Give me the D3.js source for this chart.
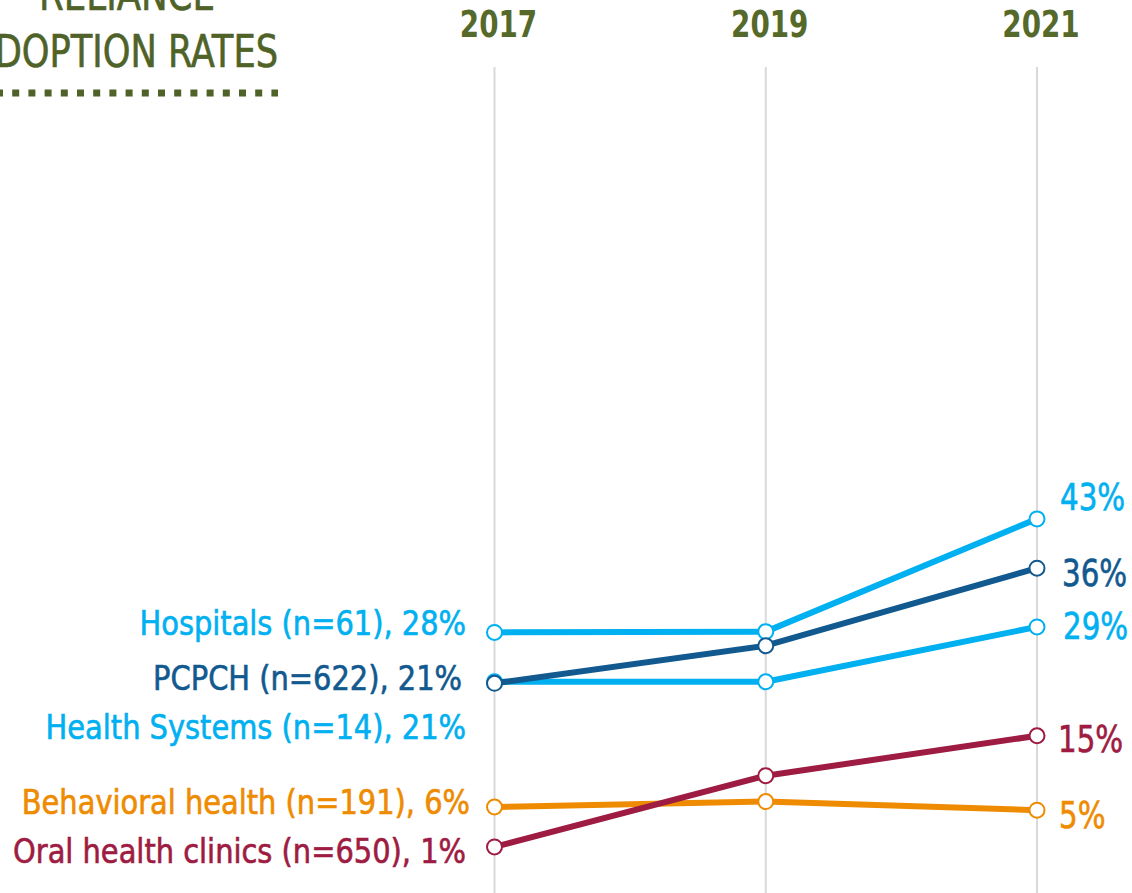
<!DOCTYPE html>
<html>
<head>
<meta charset="utf-8">
<script src="https://cdn.jsdelivr.net/npm/d3@7"></script>
<style>
  html, body { margin: 0; padding: 0; background: #fff; overflow: hidden; }
  text { font-family: "DejaVu Sans Condensed", "DejaVu Sans", sans-serif; }
</style>
</head>
<body>
<div id="chart"></div>
<script>
// --- DATA ---
var years = ["2017", "2019", "2021"];
var seriesNames = ["Behavioral health", "Health Systems", "Hospitals", "PCPCH", "Oral health clinics"];
var leftLabels = ["Behavioral health (n=191), 6%", "Health Systems (n=14), 21%", "Hospitals (n=61), 28%", "PCPCH (n=622), 21%", "Oral health clinics (n=650), 1%"];
var rightLabels = ["5%", "29%", "43%", "36%", "15%"];
var behavioral = [6.0, 6.7, 5.6];
var healthSystems = [22.0, 22.0, 29.0];
var hospitals = [28.3, 28.4, 42.8];
var pcpch = [21.8, 26.6, 36.5];
var oral = [0.9, 10.0, 15.1];
var colors = ["#EE8B00", "#00B0F0", "#00B0F0", "#11598F", "#9E1B42"];

var allValues = [behavioral, healthSystems, hospitals, pcpch, oral];

// --- SETUP ---
var width = 1132, height = 893;
var olive = "#4F6228";

var svg = d3.select("#chart").append("svg")
  .attr("width", width)
  .attr("height", height);

var x = d3.scalePoint().domain(years).range([494.5, 1037]);
var y = d3.scaleLinear().domain([0, 100]).range([854, 71]);

// narrow-font helper: squeeze text horizontally around its anchor
function place(tx, ty, sx) {
  return "translate(" + tx + "," + ty + ") scale(" + sx + ",1)";
}

// title (clipped at the top-left edge like the original)
svg.append("text").attr("transform", place(215, 10, 0.9))
  .attr("text-anchor", "end").attr("fill", olive)
  .attr("stroke", olive).attr("stroke-width", 0.6)
  .attr("font-size", 44).text("RELIANCE");
svg.append("text").attr("transform", place(278, 67, 0.89))
  .attr("text-anchor", "end").attr("fill", olive)
  .attr("stroke", olive).attr("stroke-width", 0.6)
  .attr("font-size", 44).text("ADOPTION RATES");
svg.append("line")
  .attr("x1", -4).attr("x2", 278).attr("y1", 93).attr("y2", 93)
  .attr("stroke", olive).attr("stroke-width", 7)
  .attr("stroke-dasharray", "7,9.2");

// gridlines + year labels
svg.selectAll(".grid").data(years).enter().append("line")
  .attr("class", "grid")
  .attr("x1", d => x(d)).attr("x2", d => x(d))
  .attr("y1", 67).attr("y2", height)
  .attr("stroke", "#d9d9d9").attr("stroke-width", 2);

svg.selectAll(".year").data(years).enter().append("text")
  .attr("class", "year")
  .attr("transform", d => place(x(d) + 4, 37, 0.835))
  .attr("text-anchor", "middle")
  .attr("fill", "#55692B").attr("font-weight", "bold")
  .attr("font-size", 37)
  .text(d => d);

// --- LINES ---
var line = d3.line().x((d, i) => x(years[i])).y(d => y(d));

allValues.forEach(function(vals, s) {
  var g = svg.append("g").attr("class", "series");
  g.append("path")
    .datum(vals)
    .attr("d", line)
    .attr("fill", "none")
    .attr("stroke", colors[s])
    .attr("stroke-width", 6)
    .attr("stroke-linejoin", "round");
  g.selectAll("circle").data(vals).enter().append("circle")
    .attr("cx", (d, i) => x(years[i]))
    .attr("cy", d => y(d))
    .attr("r", 7.5)
    .attr("fill", "#fff")
    .attr("stroke", colors[s])
    .attr("stroke-width", 2);
});

// --- LABELS ---
var leftY = [802, 727, 623, 678, 851];
var leftX = [470, 466, 466, 462, 466];
var rightY = [815, 626, 497, 573, 739];
var rightX = [1059, 1063, 1060, 1062, 1058];

svg.selectAll(".left-label").data(leftLabels).enter().append("text")
  .attr("class", "left-label")
  .attr("transform", (d, i) => place(leftX[i], leftY[i], 0.945))
  .attr("dy", "0.36em")
  .attr("text-anchor", "end")
  .attr("fill", (d, i) => colors[i])
  .attr("stroke", (d, i) => colors[i]).attr("stroke-width", 0.6)
  .attr("font-size", 34)
  .text(d => d);

svg.selectAll(".right-label").data(rightLabels).enter().append("text")
  .attr("class", "right-label")
  .attr("transform", (d, i) => place(rightX[i], rightY[i], 0.88))
  .attr("dy", "0.36em")
  .attr("fill", (d, i) => colors[i])
  .attr("stroke", (d, i) => colors[i]).attr("stroke-width", 0.6)
  .attr("font-size", 37)
  .text(d => d);
</script>
</body>
</html>
